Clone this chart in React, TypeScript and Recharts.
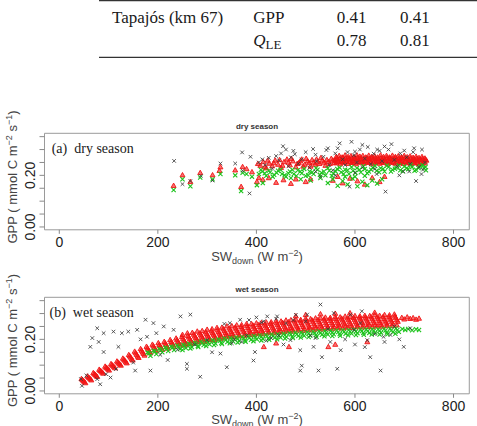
import { ReferenceArea, Scatter, ScatterChart, XAxis, YAxis } from 'recharts'

// GPP vs incoming shortwave at Tapajós km 67, dry and wet season panels.
type Pt = [number, number]

const xTicks = [0, 200, 400, 600, 800]
const yTicks = [0, 0.05, 0.1, 0.15, 0.2, 0.25, 0.3, 0.35]
const yLabelled = [0, 0.2]

const X_DOMAIN: [number, number] = [-30, 832]
const Y_DOMAIN: [number, number] = [-0.011, 0.363]

// table rows above the plots
const tableRows = [
  { site: 'Tapajós (km 67)', variable: 'GPP', a: '0.41', b: '0.41' },
  { site: '', variable: 'QLE', a: '0.78', b: '0.81' },
]

// dry season: observed (black), model run 1 (red), model run 2 (green)
const dryObs: Pt[] = [
  [233, 0.256], [250, 0.166], [266, 0.178], [287, 0.198], [311, 0.18], [327, 0.246], [357, 0.246],
  [371, 0.289], [372, 0.218], [386, 0.13], [388, 0.272], [405, 0.25], [412, 0.262], [418, 0.24],
  [425, 0.268], [432, 0.226], [440, 0.275], [446, 0.258], [450, 0.285], [454, 0.313], [460, 0.3],
  [465, 0.235], [470, 0.27], [475, 0.295], [478, 0.282], [485, 0.245], [492, 0.262], [500, 0.29],
  [508, 0.23], [515, 0.302], [520, 0.28], [522, 0.255], [520, 0.215], [530, 0.195], [536, 0.272],
  [542, 0.298], [545, 0.305], [548, 0.24], [555, 0.22], [560, 0.285], [560, 0.2], [565, 0.305],
  [569, 0.324], [575, 0.262], [580, 0.24], [585, 0.29], [589, 0.156], [593, 0.33], [598, 0.278],
  [600, 0.292], [600, 0.21], [604, 0.25], [610, 0.3], [615, 0.318], [615, 0.23], [620, 0.265],
  [626, 0.31], [632, 0.244], [638, 0.284], [640, 0.225], [644, 0.205], [645, 0.3], [650, 0.295],
  [655, 0.255], [660, 0.312], [662, 0.137], [668, 0.3], [674, 0.321], [680, 0.26], [686, 0.235],
  [690, 0.2], [692, 0.285], [698, 0.215], [700, 0.296], [705, 0.27], [710, 0.215], [712, 0.245],
  [718, 0.29], [720, 0.305], [724, 0.178], [730, 0.232], [735, 0.205], [736, 0.3], [738, 0.222],
  [742, 0.25],
]

const dryRed: Pt[] = [
  [232, 0.16], [250, 0.201], [266, 0.175], [286, 0.21], [311, 0.201], [325, 0.218], [327, 0.232],
  [357, 0.22], [369, 0.156], [372, 0.233], [380, 0.225], [391, 0.213], [401, 0.175], [405, 0.19],
  [413, 0.183], [408, 0.238], [414, 0.252], [420, 0.228], [426, 0.246], [432, 0.236], [438, 0.258],
  [444, 0.242], [450, 0.23], [456, 0.252], [462, 0.262], [468, 0.24], [474, 0.255], [480, 0.232],
  [486, 0.248], [492, 0.262], [498, 0.242], [504, 0.255], [510, 0.235], [516, 0.25], [522, 0.262],
  [528, 0.245], [534, 0.258], [540, 0.238], [546, 0.252], [552, 0.265], [558, 0.248],
  [403, 0.245], [417, 0.232], [423, 0.258], [435, 0.248], [447, 0.26], [453, 0.238], [465, 0.25],
  [471, 0.265], [483, 0.245], [489, 0.255], [495, 0.235], [501, 0.265], [507, 0.248], [513, 0.26],
  [519, 0.242], [525, 0.252], [531, 0.268], [537, 0.25], [543, 0.26], [549, 0.245], [555, 0.258],
  [425, 0.19], [440, 0.172], [455, 0.182], [470, 0.168], [480, 0.185], [500, 0.175], [510, 0.185],
  [555, 0.18], [565, 0.195], [575, 0.17], [590, 0.188], [605, 0.178], [620, 0.165], [635, 0.19],
  [650, 0.175], [660, 0.195],
  [562, 0.272], [568, 0.276], [574, 0.27], [580, 0.278], [586, 0.272], [592, 0.275], [598, 0.27],
  [604, 0.278], [610, 0.273], [616, 0.276], [622, 0.27], [628, 0.277], [634, 0.272], [640, 0.275],
  [646, 0.27], [652, 0.278], [658, 0.272], [664, 0.276], [670, 0.27], [676, 0.277], [682, 0.272],
  [688, 0.275], [694, 0.27], [700, 0.276], [706, 0.271], [712, 0.274], [718, 0.269], [724, 0.273],
  [730, 0.268], [736, 0.272], [742, 0.266],
  [563, 0.267], [569, 0.265], [575, 0.268], [581, 0.266], [587, 0.264], [593, 0.267], [599, 0.265],
  [605, 0.268], [611, 0.266], [617, 0.264], [623, 0.267], [629, 0.265], [635, 0.268], [641, 0.266],
  [647, 0.264], [653, 0.267], [659, 0.265], [665, 0.268], [671, 0.266], [677, 0.264], [683, 0.267],
  [689, 0.265], [695, 0.268], [701, 0.266], [707, 0.264], [713, 0.266], [719, 0.263], [725, 0.265],
  [731, 0.262], [737, 0.264], [743, 0.261],
  [559, 0.258], [565, 0.262], [571, 0.256], [577, 0.263], [583, 0.258], [589, 0.262], [595, 0.257],
  [601, 0.264], [607, 0.259], [613, 0.262], [619, 0.257], [625, 0.264], [631, 0.259], [637, 0.262],
  [643, 0.257], [649, 0.263], [655, 0.258], [661, 0.262], [667, 0.257], [673, 0.264], [679, 0.259],
  [685, 0.262], [691, 0.257], [697, 0.263], [703, 0.258], [709, 0.261], [715, 0.256], [721, 0.261],
  [727, 0.256], [733, 0.26], [739, 0.255], [745, 0.258],
  [566, 0.253], [574, 0.251], [582, 0.254], [590, 0.252], [598, 0.25], [606, 0.253], [614, 0.251],
  [622, 0.254], [630, 0.252], [638, 0.25], [646, 0.253], [654, 0.251], [662, 0.254], [670, 0.252],
  [678, 0.25], [686, 0.253], [694, 0.251], [702, 0.253], [710, 0.25], [718, 0.252], [726, 0.249],
  [734, 0.251], [742, 0.25],
  [562, 0.248], [570, 0.244], [578, 0.25], [586, 0.245], [594, 0.249], [602, 0.244], [610, 0.25],
  [618, 0.246], [626, 0.249], [634, 0.244], [642, 0.25], [650, 0.246], [658, 0.249], [666, 0.244],
  [674, 0.25], [682, 0.246], [690, 0.249], [698, 0.245], [706, 0.248], [714, 0.244], [722, 0.247],
  [730, 0.243], [738, 0.246],
]

const dryGreen: Pt[] = [
  [232, 0.143], [250, 0.185], [266, 0.158], [286, 0.192], [311, 0.185], [327, 0.205], [357, 0.2],
  [369, 0.139], [372, 0.21], [380, 0.205], [391, 0.195], [401, 0.162], [413, 0.17],
  [405, 0.205], [412, 0.215], [420, 0.198], [428, 0.212], [436, 0.202], [444, 0.218], [452, 0.205],
  [460, 0.195], [468, 0.215], [476, 0.205], [484, 0.22], [492, 0.208], [500, 0.198], [508, 0.215],
  [516, 0.205], [524, 0.222], [532, 0.21], [540, 0.2], [548, 0.218], [556, 0.208], [564, 0.225],
  [572, 0.212], [580, 0.222], [588, 0.205], [596, 0.218], [604, 0.228], [612, 0.212], [620, 0.225],
  [628, 0.215], [636, 0.23], [644, 0.218], [652, 0.228], [660, 0.215], [668, 0.232], [676, 0.222],
  [684, 0.23], [692, 0.22], [700, 0.234], [708, 0.224], [716, 0.232], [724, 0.222], [732, 0.235],
  [740, 0.228], [744, 0.22],
  [409, 0.222], [417, 0.208], [425, 0.218], [433, 0.195], [441, 0.21], [449, 0.222], [457, 0.2],
  [465, 0.208], [473, 0.222], [481, 0.198], [489, 0.215], [497, 0.225], [505, 0.2], [513, 0.212],
  [521, 0.228], [529, 0.202], [537, 0.215], [545, 0.228], [553, 0.198], [561, 0.215], [569, 0.23],
  [577, 0.205], [585, 0.22], [593, 0.232], [601, 0.21], [609, 0.222], [617, 0.235], [625, 0.208],
  [633, 0.222], [641, 0.236], [649, 0.212], [657, 0.225], [665, 0.238], [673, 0.215], [681, 0.226],
  [689, 0.238], [697, 0.216], [705, 0.228], [713, 0.24], [721, 0.218], [729, 0.228], [737, 0.24],
  [743, 0.232],
  [545, 0.17], [555, 0.185], [565, 0.16], [575, 0.178], [585, 0.165], [595, 0.188], [605, 0.158],
  [615, 0.175], [625, 0.162], [635, 0.18], [645, 0.168], [655, 0.185], [600, 0.195], [620, 0.198],
  [580, 0.195], [470, 0.19], [490, 0.185], [510, 0.18], [530, 0.19],
]

// wet season
const wetObs: Pt[] = [
  [44, 0.046], [46, 0.02], [55, 0.06], [63, 0.171], [67, 0.205], [77, 0.243], [77, 0.046], [80, 0.19],
  [83, 0.026], [90, 0.151], [90, 0.224], [95, 0.065], [104, 0.052], [110, 0.23], [115, 0.085],
  [120, 0.171], [127, 0.224], [140, 0.23], [150, 0.11], [154, 0.079], [158, 0.237], [165, 0.2],
  [175, 0.276], [178, 0.21], [185, 0.079], [191, 0.263], [197, 0.224], [205, 0.14], [212, 0.25],
  [220, 0.12], [232, 0.237], [240, 0.16], [246, 0.289], [259, 0.105], [259, 0.086], [266, 0.296],
  [275, 0.18], [286, 0.055], [300, 0.197], [310, 0.15], [327, 0.145], [335, 0.26], [340, 0.092],
  [346, 0.263], [350, 0.185], [355, 0.2], [367, 0.276], [370, 0.19], [380, 0.215], [385, 0.275],
  [394, 0.118], [397, 0.151], [400, 0.285], [410, 0.265], [415, 0.27], [420, 0.195], [422, 0.289],
  [430, 0.205], [440, 0.28], [442, 0.289], [445, 0.215], [455, 0.18], [460, 0.262], [469, 0.197],
  [475, 0.275], [480, 0.295], [489, 0.158], [489, 0.079], [492, 0.098], [500, 0.27], [503, 0.296],
  [510, 0.215], [516, 0.171], [520, 0.205], [526, 0.079], [530, 0.335], [533, 0.131], [545, 0.24],
  [550, 0.19], [557, 0.302], [564, 0.086], [571, 0.158], [580, 0.2], [591, 0.296], [598, 0.237],
  [600, 0.18], [611, 0.263], [614, 0.309], [620, 0.17], [625, 0.197], [631, 0.131], [640, 0.22],
  [652, 0.079], [658, 0.21], [660, 0.19], [672, 0.217], [680, 0.25], [690, 0.2], [699, 0.171],
  [712, 0.243],
]

const wetRed: Pt[] = [
  [45, 0.047], [49, 0.039], [53, 0.031], [57, 0.057], [61, 0.05], [65, 0.042], [69, 0.07], [73, 0.063],
  [77, 0.055], [81, 0.083], [85, 0.076], [89, 0.068], [93, 0.095], [97, 0.088], [101, 0.08],
  [105, 0.105], [109, 0.097], [113, 0.089], [117, 0.115], [121, 0.107], [125, 0.099], [129, 0.126],
  [133, 0.118], [137, 0.108], [141, 0.14], [145, 0.13], [149, 0.119], [153, 0.153], [157, 0.141],
  [161, 0.129], [165, 0.163], [169, 0.15], [173, 0.138], [177, 0.172], [181, 0.159], [185, 0.147],
  [189, 0.18], [193, 0.167], [197, 0.155], [201, 0.186], [205, 0.173], [209, 0.16], [213, 0.191],
  [217, 0.178], [221, 0.165], [225, 0.198], [229, 0.185], [233, 0.171], [237, 0.204], [241, 0.191],
  [245, 0.177], [249, 0.21], [253, 0.196], [257, 0.183], [261, 0.214], [265, 0.201], [269, 0.187],
  [273, 0.219], [277, 0.206], [281, 0.192], [285, 0.224], [289, 0.211], [293, 0.197], [297, 0.228],
  [301, 0.215], [305, 0.201], [309, 0.232], [313, 0.219], [317, 0.205], [321, 0.236], [325, 0.223],
  [329, 0.209], [333, 0.24], [337, 0.226], [341, 0.213], [345, 0.243], [349, 0.229], [353, 0.216],
  [357, 0.246], [361, 0.232], [365, 0.218], [369, 0.249], [373, 0.235], [377, 0.221], [381, 0.252],
  [385, 0.238], [389, 0.224], [393, 0.254], [397, 0.24], [401, 0.226], [405, 0.256], [409, 0.242],
  [413, 0.228], [417, 0.258], [421, 0.244], [425, 0.23], [429, 0.261], [433, 0.246], [437, 0.232],
  [441, 0.263], [445, 0.248], [449, 0.234], [453, 0.265], [457, 0.25], [461, 0.236], [465, 0.267],
  [469, 0.252], [473, 0.238], [477, 0.27], [481, 0.254], [485, 0.24], [489, 0.271], [493, 0.256],
  [497, 0.241], [501, 0.273], [505, 0.258], [509, 0.243], [513, 0.274], [517, 0.259], [521, 0.244],
  [525, 0.276], [529, 0.261], [533, 0.246], [537, 0.278], [541, 0.263], [545, 0.248], [549, 0.279],
  [553, 0.264], [557, 0.249], [561, 0.28], [565, 0.265], [569, 0.25], [573, 0.281], [577, 0.266],
  [581, 0.251], [585, 0.282], [589, 0.267], [593, 0.252], [597, 0.284], [601, 0.269], [605, 0.254],
  [609, 0.285], [613, 0.27], [617, 0.255], [621, 0.285], [625, 0.27], [629, 0.255], [633, 0.286],
  [637, 0.271], [641, 0.256], [645, 0.286], [649, 0.272], [653, 0.257], [657, 0.287], [661, 0.273],
  [665, 0.258], [669, 0.288], [673, 0.274], [677, 0.26], [681, 0.289], [685, 0.275],
  [47, 0.043], [51, 0.035], [59, 0.053], [63, 0.046], [71, 0.066], [75, 0.059], [83, 0.079], [87, 0.072],
  [95, 0.091], [99, 0.084], [107, 0.101], [111, 0.093], [119, 0.111], [123, 0.103], [131, 0.122],
  [135, 0.112], [143, 0.135], [147, 0.123], [155, 0.147], [159, 0.134], [167, 0.157], [171, 0.144],
  [179, 0.166], [183, 0.153], [191, 0.174], [195, 0.161], [203, 0.179], [207, 0.166], [215, 0.185],
  [219, 0.171], [227, 0.191], [231, 0.178], [239, 0.197], [243, 0.184], [251, 0.203], [255, 0.189],
  [263, 0.208], [267, 0.194], [275, 0.212], [279, 0.199], [287, 0.217], [291, 0.204], [299, 0.221],
  [303, 0.208], [311, 0.225], [315, 0.212], [323, 0.229], [327, 0.216], [335, 0.233], [339, 0.219],
  [347, 0.236], [351, 0.222], [359, 0.239], [363, 0.225], [371, 0.242], [375, 0.228], [383, 0.245],
  [387, 0.231], [395, 0.247], [399, 0.233], [407, 0.249], [411, 0.235], [419, 0.251], [423, 0.237],
  [431, 0.254], [435, 0.239], [443, 0.256], [447, 0.241], [455, 0.258], [459, 0.243], [467, 0.26],
  [471, 0.245], [479, 0.262], [483, 0.247], [491, 0.264], [495, 0.249], [503, 0.266], [507, 0.25],
  [515, 0.267], [519, 0.252], [527, 0.269], [531, 0.254], [539, 0.271], [543, 0.256], [551, 0.272],
  [555, 0.257], [563, 0.273], [567, 0.258], [575, 0.274], [579, 0.259], [587, 0.275], [591, 0.26],
  [599, 0.277], [603, 0.262], [611, 0.278], [615, 0.263], [623, 0.278], [627, 0.263], [635, 0.279],
  [639, 0.264], [647, 0.279], [651, 0.265], [659, 0.28], [663, 0.266], [671, 0.281], [675, 0.267],
  [683, 0.283], [687, 0.269],
  // upper edge of the band
  [250, 0.218], [260, 0.224], [270, 0.226], [280, 0.231], [290, 0.233], [300, 0.238], [310, 0.24],
  [320, 0.245], [330, 0.246], [340, 0.251], [350, 0.252], [360, 0.255], [370, 0.256], [380, 0.26],
  [390, 0.26], [400, 0.263], [410, 0.264], [420, 0.266], [430, 0.267], [440, 0.271], [450, 0.27],
  [460, 0.274], [470, 0.275], [480, 0.277], [490, 0.276], [500, 0.28], [510, 0.279], [520, 0.282],
  [530, 0.283], [540, 0.285], [550, 0.284], [560, 0.287], [570, 0.286], [580, 0.289], [590, 0.288],
  [600, 0.291], [610, 0.29], [620, 0.292], [630, 0.291], [640, 0.294], [650, 0.292], [660, 0.295],
  [670, 0.294], [680, 0.297],
  // lower edge of the band
  [255, 0.177], [265, 0.182], [275, 0.184], [285, 0.19], [295, 0.191], [305, 0.197], [315, 0.198],
  [325, 0.203], [335, 0.204], [345, 0.209], [355, 0.209], [365, 0.213], [375, 0.213], [385, 0.218],
  [395, 0.217], [405, 0.221], [415, 0.221], [425, 0.225], [435, 0.225], [445, 0.228], [455, 0.228],
  [465, 0.232], [475, 0.231], [485, 0.235], [495, 0.234], [505, 0.237], [515, 0.236], [525, 0.24],
  [535, 0.239], [545, 0.243], [555, 0.242], [565, 0.244], [575, 0.243], [585, 0.246], [595, 0.245],
  [605, 0.248], [615, 0.247], [625, 0.249], [635, 0.248], [645, 0.251], [655, 0.25], [665, 0.252],
  [675, 0.252], [685, 0.255],
  [695, 0.284], [700, 0.278], [706, 0.286], [712, 0.28], [718, 0.283], [724, 0.277], [730, 0.281],
  [415, 0.171], [440, 0.185], [466, 0.171], [546, 0.171], [560, 0.18], [625, 0.19],
  [480, 0.29], [500, 0.295], [530, 0.298], [560, 0.3], [590, 0.302], [640, 0.304],
]

const wetGreen: Pt[] = [
  [179, 0.149], [185, 0.136], [191, 0.156], [197, 0.143], [203, 0.163], [209, 0.15], [215, 0.168],
  [221, 0.155], [227, 0.172], [233, 0.159], [239, 0.176], [245, 0.163], [251, 0.179], [257, 0.166],
  [263, 0.183], [269, 0.17], [275, 0.187], [281, 0.174], [287, 0.191], [293, 0.178], [299, 0.194],
  [305, 0.181], [311, 0.197], [317, 0.184], [323, 0.2], [329, 0.187], [335, 0.203], [341, 0.19],
  [347, 0.205], [353, 0.192], [359, 0.207], [365, 0.194], [371, 0.209], [377, 0.196], [383, 0.211],
  [389, 0.198], [395, 0.213], [401, 0.2], [407, 0.215], [413, 0.202], [419, 0.217], [425, 0.204],
  [431, 0.219], [437, 0.206], [443, 0.22], [449, 0.207], [455, 0.222], [461, 0.209], [467, 0.224],
  [473, 0.211], [479, 0.226], [485, 0.213], [491, 0.227], [497, 0.214], [503, 0.228], [509, 0.215],
  [515, 0.23], [521, 0.217], [527, 0.231], [533, 0.218], [539, 0.232], [545, 0.219], [551, 0.233],
  [557, 0.22], [563, 0.234], [569, 0.221], [575, 0.235], [581, 0.222], [587, 0.236], [593, 0.223],
  [599, 0.237], [605, 0.224], [611, 0.238], [617, 0.225], [623, 0.238], [629, 0.225], [635, 0.239],
  [641, 0.226], [647, 0.239], [653, 0.226], [659, 0.24], [665, 0.227], [671, 0.241], [677, 0.228],
  [683, 0.242], [689, 0.229], [696, 0.24], [702, 0.236], [708, 0.24], [716, 0.235], [724, 0.239],
  [730, 0.236],
  [182, 0.146], [194, 0.153], [206, 0.159], [218, 0.164], [230, 0.168], [242, 0.171], [254, 0.175],
  [266, 0.179], [278, 0.183], [290, 0.186], [302, 0.189], [314, 0.192], [326, 0.195], [338, 0.198],
  [350, 0.2], [362, 0.202], [374, 0.204], [386, 0.206], [398, 0.208], [410, 0.21], [422, 0.212],
  [434, 0.213], [446, 0.215], [458, 0.217], [470, 0.219], [482, 0.22], [494, 0.221], [506, 0.223],
  [518, 0.224], [530, 0.225], [542, 0.226], [554, 0.227], [566, 0.228], [578, 0.229], [590, 0.23],
  [602, 0.231], [614, 0.232], [626, 0.232], [638, 0.233], [650, 0.233], [662, 0.234], [674, 0.235],
  [686, 0.236],
  [250, 0.159], [266, 0.165], [282, 0.17], [298, 0.174], [314, 0.178], [330, 0.182], [346, 0.185],
  [362, 0.188], [378, 0.191], [394, 0.193], [410, 0.196], [426, 0.198], [442, 0.2], [458, 0.203],
  [474, 0.205], [490, 0.207], [506, 0.209], [522, 0.21], [538, 0.212], [554, 0.213], [570, 0.214],
  [586, 0.216], [602, 0.217], [618, 0.218], [634, 0.219], [650, 0.219], [666, 0.22], [682, 0.222],
]

const RED = '#f21414'
const GREEN = '#1ec41e'
const BLACK = '#3c3c3c'
const BOX_GRAY = '#9a9a9a'
const TICK_GRAY = '#8a8a8a'
const SANS = '"Liberation Sans", Arial, Helvetica, sans-serif'
const SERIF = '"Liberation Serif", "Times New Roman", serif'

const toXY = (pts: Pt[]) => pts.map(([x, y]) => ({ x, y }))

function Triangle(props: any) {
  const { cx, cy } = props
  if (cx == null || cy == null) return <g />
  return (
    <polygon
      points={`${cx},${cy - 2.6} ${cx - 2.5},${cy + 1.8} ${cx + 2.5},${cy + 1.8}`}
      fill={RED}
      fillOpacity={0.6}
      stroke={RED}
      strokeWidth={0.9}
    />
  )
}

function Cross(props: any) {
  const { cx, cy, color, s = 1.8, w = 0.85 } = props
  if (cx == null || cy == null) return <g />
  return (
    <path
      d={`M${cx - s},${cy - s}L${cx + s},${cy + s}M${cx - s},${cy + s}L${cx + s},${cy - s}`}
      stroke={color}
      strokeWidth={w}
      fill="none"
    />
  )
}

function YTick({ y, payload }: any) {
  if (!yLabelled.includes(payload.value)) return <g />
  return (
    <text
      x={35}
      y={y}
      transform={`rotate(-90 35 ${y})`}
      textAnchor="middle"
      fontSize={14}
      fill="#222"
      fontFamily={SANS}
    >
      {payload.value.toFixed(2)}
    </text>
  )
}

function SeasonPanel({ top, obs, red, green }: { top: number; obs: Pt[]; red: Pt[]; green: Pt[] }) {
  return (
    <div style={{ position: 'absolute', left: 0, top }}>
      <ScatterChart width={477} height={159.8} margin={{ top: 23.3, right: 7.7, bottom: 0, left: 0 }}>
        <XAxis
          type="number"
          dataKey="x"
          domain={X_DOMAIN}
          ticks={xTicks}
          interval={0}
          allowDataOverflow
          axisLine={false}
          tickSize={4}
          tickMargin={3}
          tickLine={{ stroke: TICK_GRAY }}
          tick={{ fontSize: 14, fill: '#222', fontFamily: SANS }}
          height={40}
        />
        <YAxis
          type="number"
          dataKey="y"
          domain={Y_DOMAIN}
          ticks={yTicks}
          interval={0}
          allowDataOverflow
          axisLine={false}
          tickSize={5}
          tickLine={{ stroke: TICK_GRAY }}
          tick={YTick}
          width={44.5}
        />
        <ReferenceArea
          x1={X_DOMAIN[0]}
          x2={X_DOMAIN[1]}
          y1={Y_DOMAIN[0]}
          y2={Y_DOMAIN[1]}
          fill="none"
          stroke={BOX_GRAY}
          strokeWidth={1}
          ifOverflow="visible"
        />
        <Scatter data={toXY(red)} shape={Triangle} isAnimationActive={false} />
        <Scatter
          data={toXY(green)}
          shape={(p: any) => <Cross {...p} color={GREEN} s={2.1} w={1.1} />}
          isAnimationActive={false}
        />
        <Scatter data={toXY(obs)} shape={(p: any) => <Cross {...p} color={BLACK} />} isAnimationActive={false} />
      </ScatterChart>
    </div>
  )
}

function AxisTitles({ dy, xTitleY }: { dy: number; xTitleY: number }) {
  const cy = 177 + dy
  return (
    <g fontFamily={SANS} fill="#444">
      <text x={257} y={xTitleY} textAnchor="middle" fontSize={13}>
        SW<tspan fontSize={9} dy={3}>down</tspan>
        <tspan dy={-3}> (W m</tspan>
        <tspan fontSize={9} dy={-5}>−2</tspan>
        <tspan dy={5}>)</tspan>
      </text>
      <text x={16.5} y={cy} transform={`rotate(-90 16.5 ${cy})`} textAnchor="middle" fontSize={13}>
        GPP ( mmol C m<tspan fontSize={9} dy={-5}>−2</tspan>
        <tspan dy={5}> s</tspan>
        <tspan fontSize={9} dy={-5}>−1</tspan>
        <tspan dy={5}>)</tspan>
      </text>
    </g>
  )
}

export default function App() {
  const colX = [112, 253.3, 336.7, 400]
  const rowY = [23.3, 45.7]
  return (
    <div
      style={{ position: 'absolute', left: 0, top: 0, width: 477, height: 426, overflow: 'hidden', background: '#fff' }}
    >
      <SeasonPanel top={110} obs={dryObs} red={dryRed} green={dryGreen} />
      <SeasonPanel top={273.5} obs={wetObs} red={wetRed} green={wetGreen} />
      <svg width={477} height={426} style={{ position: 'absolute', left: 0, top: 0, pointerEvents: 'none' }}>
        {/* table fragment */}
        <line x1={99} x2={477} y1={0.6} y2={0.6} stroke="#333" strokeWidth={1.2} />
        <line x1={99} x2={477} y1={57.3} y2={57.3} stroke="#333" strokeWidth={1.2} />
        <g fontFamily={SERIF} fontSize={17} fill="#1a1a1a">
          {tableRows.map((r, i) => (
            <g key={i}>
              {r.site && (
                <text x={colX[0]} y={rowY[i]}>
                  {r.site}
                </text>
              )}
              {r.variable === 'QLE' ? (
                <text x={colX[1]} y={rowY[i]}>
                  <tspan fontStyle="italic">Q</tspan>
                  <tspan fontSize={13} dy={3}>
                    LE
                  </tspan>
                </text>
              ) : (
                <text x={colX[1]} y={rowY[i]}>
                  {r.variable}
                </text>
              )}
              <text x={colX[2]} y={rowY[i]}>
                {r.a}
              </text>
              <text x={colX[3]} y={rowY[i]}>
                {r.b}
              </text>
            </g>
          ))}
        </g>

        {/* panel titles */}
        <g fontFamily={SANS} fontSize={8} fontWeight="bold" fill="#333" textAnchor="middle">
          <text x={257} y={128.5}>dry season</text>
          <text x={257} y={292}>wet season</text>
        </g>
        <g fontFamily={SERIF} fontSize={14} fill="#1a1a1a">
          <text x={51.7} y={153.3} xmlSpace="preserve">(a)  dry season</text>
          <text x={49.5} y={316.5} xmlSpace="preserve">(b)  wet season</text>
        </g>
        <AxisTitles dy={0} xTitleY={261} />
        <AxisTitles dy={163.5} xTitleY={423.5} />
      </svg>
    </div>
  )
}
